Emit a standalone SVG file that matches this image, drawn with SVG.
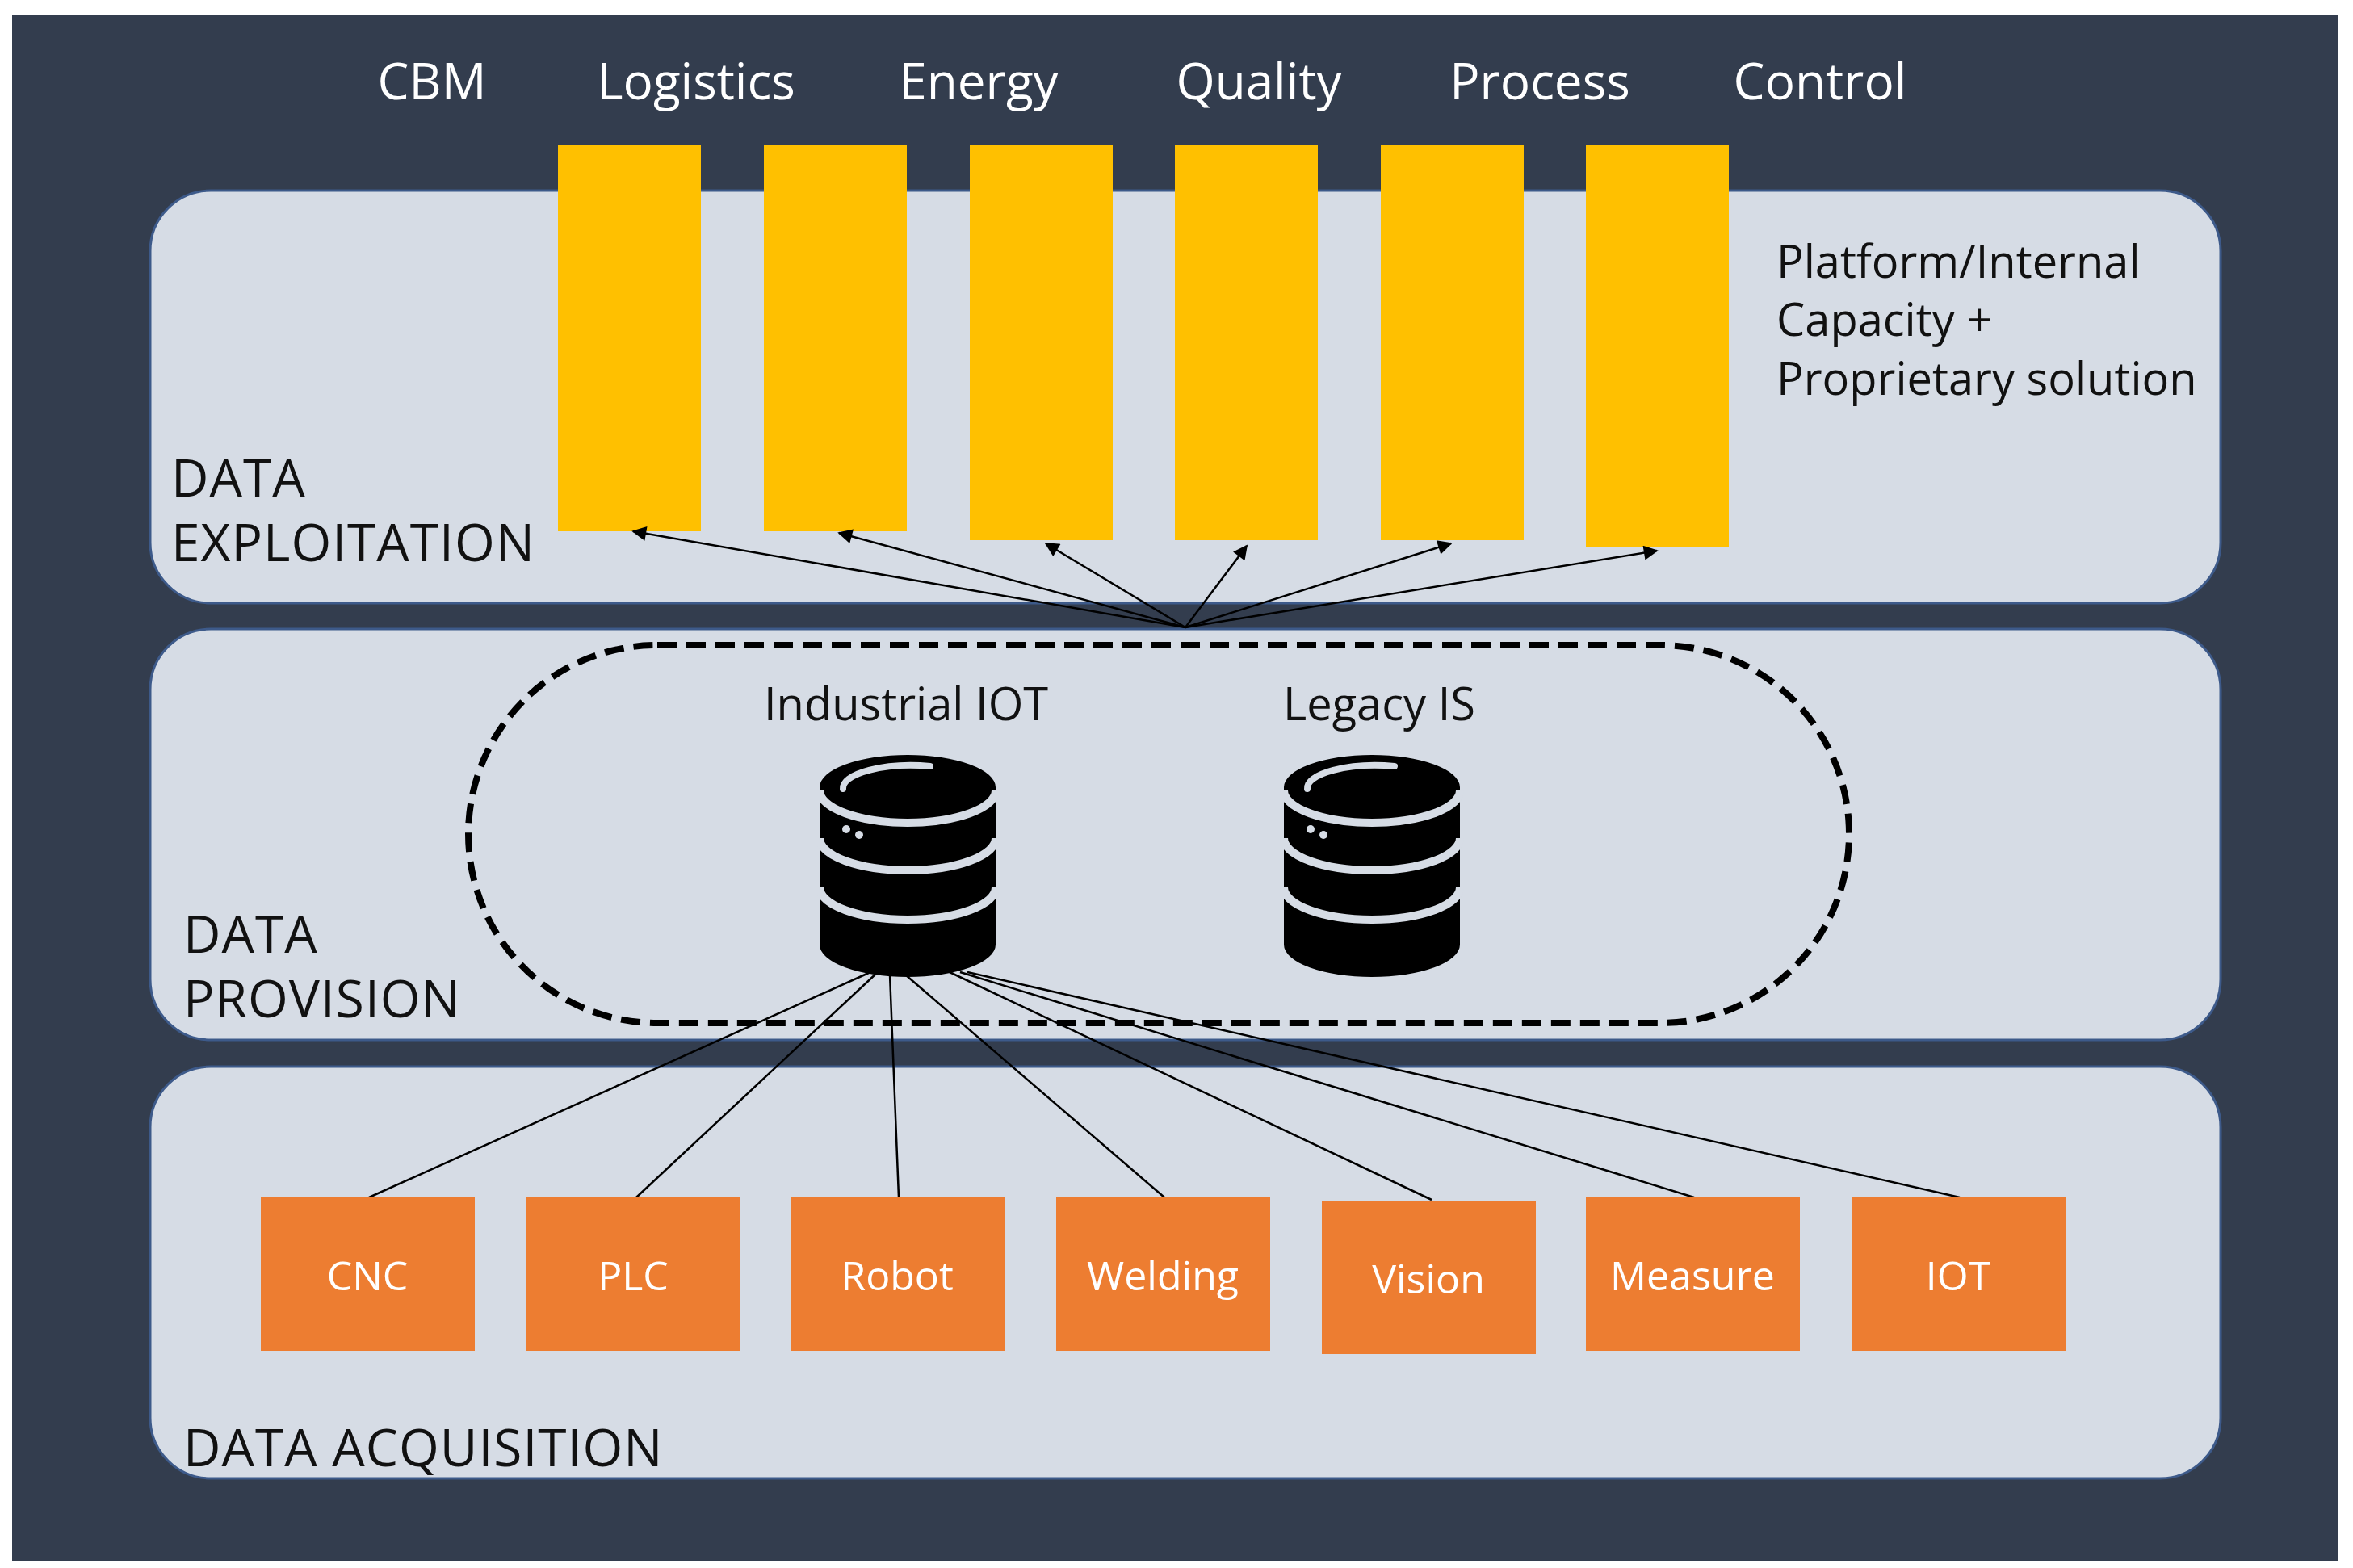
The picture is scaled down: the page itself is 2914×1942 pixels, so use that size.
<svg xmlns="http://www.w3.org/2000/svg" width="2914" height="1942" viewBox="0 0 2914 1942">
<style>
text{font-family:"Open Sans","Liberation Sans",sans-serif}
.top{fill:#fff;font-size:62px;text-anchor:middle}
.lbl{fill:#111;font-size:64px;letter-spacing:1px}
.sm{fill:#111;font-size:56px}
.panel{fill:#d6dce5;stroke:#3d5a8a;stroke-width:3}
.bar{fill:#ffc000}
.box{fill:#ed7d31}
.bt{fill:#fff;font-size:50px;text-anchor:middle}
.ar{stroke:#000;stroke-width:2.5;fill:none;marker-end:url(#ah)}
.ln{stroke:#000;stroke-width:2.5;fill:none}
.stripe{fill:none;stroke:#d6dce5;stroke-width:10}
</style>
<defs>
<marker id="ah" viewBox="0 0 10 10" refX="9" refY="5" markerWidth="22" markerHeight="18" orient="auto" markerUnits="userSpaceOnUse"><path d="M0,0L10,5L0,10z" fill="#000"/></marker>
<g id="db">
<path d="M-109,40 A109,40 0 0 1 109,40 L109,235 A109,40 0 0 1 -109,235 Z" fill="#000"/>
<path class="stripe" d="M-109,44 A109,40 0 0 0 109,44"/>
<path class="stripe" d="M-109,103 A109,40 0 0 0 109,103"/>
<path class="stripe" d="M-109,164 A109,40 0 0 0 109,164"/>
<path d="M-80,42 A85,28 0 0 1 28,14" fill="none" stroke="#d6dce5" stroke-width="8" stroke-linecap="round"/>
<circle cx="-76" cy="92" r="5" fill="#d6dce5"/><circle cx="-60" cy="99" r="5" fill="#d6dce5"/>
</g>
</defs>
<rect width="2914" height="1942" fill="#fff"/>
<rect x="15" y="19" width="2880" height="1914" fill="#333d4e"/>
<g id="panel-exploitation"><rect class="panel" x="186" y="236" width="2564" height="511" rx="75"/>
<text class="lbl" x="212" y="615">DATA</text><text class="lbl" x="212" y="695">EXPLOITATION</text>
<text class="sm" x="2200" y="344">Platform/Internal</text><text class="sm" x="2200" y="416">Capacity +</text><text class="sm" x="2200" y="489">Proprietary solution</text></g>
<g id="panel-provision"><rect class="panel" x="186" y="779" width="2564" height="509" rx="75"/>
<text class="lbl" x="227" y="1180">DATA</text><text class="lbl" x="227" y="1260">PROVISION</text></g>
<g id="panel-acquisition"><rect class="panel" x="186" y="1321" width="2564" height="510" rx="75"/>
<text class="lbl" x="227" y="1816">DATA ACQUISITION</text></g>
<g id="apps">
<text class="top" x="535" y="123">CBM</text><text class="top" x="862" y="123">Logistics</text><text class="top" x="1212" y="123">Energy</text><text class="top" x="1559" y="123">Quality</text><text class="top" x="1907" y="123">Process</text><text class="top" x="2254" y="123">Control</text>
<rect id="bar-cbm" class="bar" x="691" y="180" width="177" height="478"/>
<rect id="bar-logistics" class="bar" x="946" y="180" width="177" height="478"/>
<rect id="bar-energy" class="bar" x="1201" y="180" width="177" height="489"/>
<rect id="bar-quality" class="bar" x="1455" y="180" width="177" height="489"/>
<rect id="bar-process" class="bar" x="1710" y="180" width="177" height="489"/>
<rect id="bar-control" class="bar" x="1964" y="180" width="177" height="498"/>
</g>
<g id="cloud"><rect x="580" y="799" width="1710" height="468" rx="234" fill="none" stroke="#000" stroke-width="8" stroke-dasharray="24 12"/></g>
<g id="industrial-iot"><text class="sm" x="1122" y="892" text-anchor="middle">Industrial IOT</text><use href="#db" x="1124" y="935"/></g>
<g id="legacy-is"><text class="sm" x="1708" y="892" text-anchor="middle">Legacy IS</text><use href="#db" x="1699" y="935"/></g>
<g id="connectors">
<line class="ar" x1="1468" y1="777" x2="784" y2="658"/>
<line class="ar" x1="1468" y1="777" x2="1039" y2="660"/>
<line class="ar" x1="1468" y1="777" x2="1295" y2="673"/>
<line class="ar" x1="1468" y1="777" x2="1544" y2="676"/>
<line class="ar" x1="1468" y1="777" x2="1797" y2="673"/>
<line class="ar" x1="1468" y1="777" x2="2052" y2="682"/>
<line class="ln" x1="1078" y1="1204" x2="457" y2="1483"/>
<line class="ln" x1="1087" y1="1204" x2="788" y2="1483"/>
<line class="ln" x1="1102" y1="1207" x2="1113" y2="1483"/>
<line class="ln" x1="1121" y1="1207" x2="1442" y2="1483"/>
<line class="ln" x1="1176" y1="1204" x2="1773" y2="1486"/>
<line class="ln" x1="1189" y1="1204" x2="2098" y2="1483"/>
<line class="ln" x1="1198" y1="1204" x2="2427" y2="1483"/>
</g>
<g id="cnc"><rect class="box" x="323" y="1483" width="265" height="190"/><text class="bt" x="455" y="1598">CNC</text></g>
<g id="plc"><rect class="box" x="652" y="1483" width="265" height="190"/><text class="bt" x="784" y="1598">PLC</text></g>
<g id="robot"><rect class="box" x="979" y="1483" width="265" height="190"/><text class="bt" x="1111" y="1598">Robot</text></g>
<g id="welding"><rect class="box" x="1308" y="1483" width="265" height="190"/><text class="bt" x="1440" y="1598">Welding</text></g>
<g id="vision"><rect class="box" x="1637" y="1487" width="265" height="190"/><text class="bt" x="1769" y="1602">Vision</text></g>
<g id="measure"><rect class="box" x="1964" y="1483" width="265" height="190"/><text class="bt" x="2096" y="1598">Measure</text></g>
<g id="iot"><rect class="box" x="2293" y="1483" width="265" height="190"/><text class="bt" x="2425" y="1598">IOT</text></g>
</svg>
